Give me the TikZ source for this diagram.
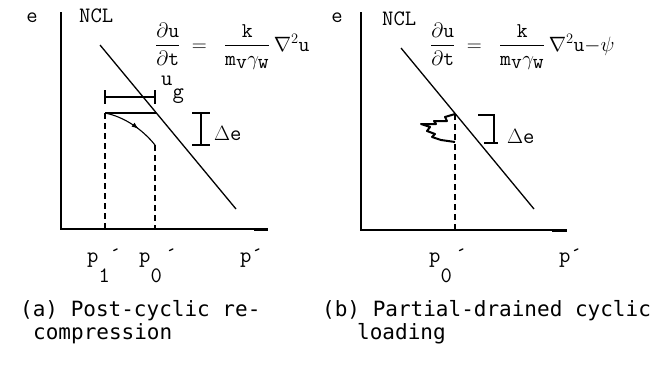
\documentclass[tikz,border=0pt]{standalone}
\usepackage{amsmath}
\usepackage{fontspec}
\newfontfamily\capfont{DejaVu Sans Mono}
\usetikzlibrary{arrows.meta, decorations.markings}

\begin{document}
\begin{tikzpicture}[
  x=1pt, y=-1pt,
  axis/.style={line width=1.6pt},
  axisend/.style={line width=3pt},
  ncl/.style={line width=1.3pt},
  guide/.style={line width=1.2pt, dash pattern=on 6pt off 4pt},
  thinline/.style={line width=1.1pt},
  lbl/.style={font=\ttfamily\fontsize{22}{24}\selectfont, inner sep=0pt},
  eqn/.style={font=\fontsize{21}{24}\selectfont, inner sep=0pt, anchor=west},
  capnode/.style={font=\capfont\fontsize{21}{23}\selectfont, align=left, anchor=north west, inner sep=0pt},
  midarrow/.style={postaction={decorate}, decoration={markings, mark=at position 0.62 with {\arrow{Latex[length=7pt,width=5pt]}}}},
]
\useasboundingbox (0,0) rectangle (658,365);

% ---------------- (a) Post-cyclic recompression ----------------
\coordinate (topA) at (61,12);
\coordinate (oA) at (61,229);
\coordinate (endA) at (268,229);
\coordinate (nclTopA) at (100,45);
\coordinate (nclBotA) at (236,209);
\coordinate (startA) at (105,113);
\coordinate (hitA) at (156,113);
\coordinate (stopA) at (155,145);
\coordinate (foot1A) at (105,229);
\coordinate (foot0A) at (155,229);

% axes
\draw[axis] (topA) -- (oA) -- (endA);
\draw[axisend] (254,229) -- (endA);

% NCL
\draw[ncl] (nclTopA) -- (nclBotA);

% u_g bracket
\draw[thinline] (105,97) -- (155,97);
\draw[thinline] (105,90) -- (105,104);
\draw[thinline] (155,90) -- (155,104);

% recompression path
\draw[thinline] (startA) -- (hitA);
\draw[thinline, midarrow] (startA) .. controls (125,117) and (143,130) .. (stopA);
\draw[guide] (startA) -- (foot1A);
\draw[guide] (stopA) -- (foot0A);

% delta e bracket
\draw[thinline] (201,113) -- (201,145);
\draw[thinline] (192,113) -- (210,113);
\draw[thinline] (192,145) -- (210,145);

% labels
\node[lbl, anchor=base] (eA) at (32,22) {e};
\node[lbl, anchor=base west] (nclA) at (79,22) {NCL};
\node[eqn] (eqA) at (155,46) {$\dfrac{\partial\texttt{u}}{\partial\texttt{t}}\;=\;\;\dfrac{\texttt{k}}{\texttt{m}_{\textstyle\texttt{v}}\gamma_{\textstyle\texttt{w}}}\,\nabla^{2}\texttt{u}$};
\node[lbl, anchor=base west] (ugA) at (161,85) {u\raisebox{-13pt}{g}};
\node[lbl, anchor=base west] (deA) at (214,140) {$\Delta$e};
\node[lbl, anchor=base west] (p1A) at (87,262) {p\raisebox{-20pt}{1}´};
\node[lbl, anchor=base west] (p0A) at (139,262) {p\raisebox{-20pt}{0}\,´};
\node[lbl, anchor=base west] (pA) at (240,262) {p´};
\node[capnode] (capA) at (20,300) {(a) Post-cyclic re-\\\hspace*{13pt}compression};

% ---------------- (b) Partial-drained cyclic loading ----------------
\coordinate (topB) at (361,12);
\coordinate (oB) at (361,230);
\coordinate (endB) at (567,230);
\coordinate (nclTopB) at (401,48);
\coordinate (nclBotB) at (534,209);
\coordinate (hitB) at (455,114);
\coordinate (footB) at (455,230);

% axes
\draw[axis] (topB) -- (oB) -- (endB);
\draw[axisend] (552,230) -- (endB);

% NCL
\draw[ncl] (nclTopB) -- (nclBotB);

% cyclic loading zig-zag
\draw[line width=2pt, line join=round]
  (hitB) -- (445,117) -- (447,121) -- (434,121) -- (436,124) -- (421,124)
  -- (430,127) -- (427,131) -- (435,134) -- (432,137) -- (441,140) -- (455,142);
\draw[guide] (hitB) -- (footB);

% delta e bracket
\draw[thinline] (478,115) -- (494,115) -- (494,143);
\draw[thinline] (484,143) -- (498,143);

% labels
\node[lbl, anchor=base] (eB) at (337,22) {e};
\node[lbl, anchor=base west] (nclB) at (382,25) {NCL};
\node[eqn] (eqB) at (430,46) {$\dfrac{\partial\texttt{u}}{\partial\texttt{t}}\;=\;\;\dfrac{\texttt{k}}{\texttt{m}_{\textstyle\texttt{v}}\gamma_{\textstyle\texttt{w}}}\,\nabla^{2}\texttt{u}{-}\psi$};
\node[lbl, anchor=base west] (deB) at (507,143) {$\Delta$e};
\node[lbl, anchor=base west] (p0B) at (429,262) {p\raisebox{-20pt}{0}\,´};
\node[lbl, anchor=base west] (pB) at (559,262) {p´};
\node[capnode] (capB) at (322,300) {(b) Partial-drained cyclic\\\hspace*{35pt}loading};

\end{tikzpicture}
\end{document}
